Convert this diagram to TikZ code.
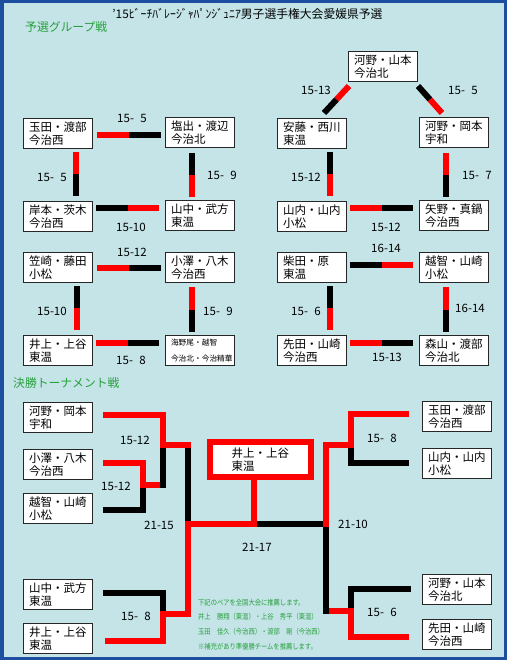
\documentclass[tikz,border=0pt]{standalone}
\usepackage{graphicx}
\usepackage{fontspec}
\setmainfont{Noto Sans CJK JP}
\usetikzlibrary{calc}
\definecolor{bg}{RGB}{196,228,232}
\definecolor{frameblue}{RGB}{30,78,160}
\definecolor{grn}{RGB}{40,160,60}
\newcommand\twotone[4]{\draw[conn,#3] #1 -- ($#1!0.5!#2$); \draw[conn,#4] ($#1!0.5!#2$) -- #2;}
\begin{document}
\begin{tikzpicture}[x=1pt,y=-1pt,
  team/.style={draw=black!85, line width=1pt, fill=white, anchor=north west,
    minimum width=69pt, minimum height=30pt, text width=58pt, inner xsep=5.5pt,
    inner ysep=0pt, align=left, font=\fontsize{11.5}{13}\selectfont},
  smallteam/.style={team, font=\fontsize{7.7}{16}\selectfont},
  score/.style={font=\fontsize{11.5}{13}\selectfont, inner sep=0pt},
  conn/.style={line width=6pt, line cap=butt, line join=miter},
  hdr/.style={text=grn, anchor=west, inner sep=0pt, font=\fontsize{11.8}{14}\selectfont},
  note/.style={text=grn, anchor=west, inner sep=0pt, font=\fontsize{7.4}{9}\selectfont},
]
\useasboundingbox (0,0) rectangle (508,663);
\fill[white] (0,0) rectangle (508,663);
\draw[line width=3.5pt, draw=frameblue, fill=bg] (1.75,1.75) rectangle (505.5,658.5);

% title and headers
\node[inner sep=0pt, font=\fontsize{11.8}{14}\selectfont] (title) at (247.5,14) {’15ﾋﾞｰﾁﾊﾞﾚｰｼﾞｬﾊﾟﾝｼﾞｭﾆｱ男子選手権大会愛媛県予選};
\node[hdr] (h1) at (25,27.5) {予選グループ戦};
\node[hdr] (h2) at (13,383) {決勝トーナメント戦};

% ---------- group stage boxes ----------
\node[team] (a1) at (23,118) {玉田・渡部\\今治西};
\node[team] (a2) at (165,117) {塩出・渡辺\\今治北};
\node[team] (a3) at (23,201) {岸本・茨木\\今治西};
\node[team] (a4) at (165,200) {山中・武方\\東温};
\node[team] (b1) at (23,252) {笠崎・藤田\\小松};
\node[team] (b2) at (165,252) {小澤・八木\\今治西};
\node[team] (b3) at (23,335) {井上・上谷\\東温};
\node[smallteam] (b4) at (165,335) {海野尾・越智\\今治北・今治精華};
\node[team] (c1) at (348,51) {河野・山本\\今治北};
\node[team] (c2) at (277,118) {安藤・西川\\東温};
\node[team] (c3) at (419,117) {河野・岡本\\宇和};
\node[team] (c4) at (277,201) {山内・山内\\小松};
\node[team] (c5) at (419,200) {矢野・真鍋\\今治西};
\node[team] (d1) at (277,252) {柴田・原\\東温};
\node[team] (d2) at (419,252) {越智・山崎\\小松};
\node[team] (d3) at (277,335) {先田・山崎\\今治西};
\node[team] (d4) at (419,335) {森山・渡部\\今治北};

% ---------- group stage connectors ----------
\twotone{(97,135)}{(161,135)}{red}{black}
\twotone{(76,152)}{(76,196)}{red}{black}
\twotone{(192,153)}{(192,197)}{black}{red}
\twotone{(96,208)}{(159,208)}{black}{red}
\twotone{(97,268)}{(161,268)}{red}{black}
\twotone{(77,286)}{(77,330)}{black}{red}
\twotone{(192,287)}{(192,332)}{red}{black}
\twotone{(96,343)}{(159,343)}{red}{black}
\twotone{(349,86)}{(324,113)}{red}{black}
\twotone{(418,86)}{(442,113)}{black}{red}
\twotone{(330,152)}{(330,196)}{black}{red}
\twotone{(446,153)}{(446,197)}{red}{black}
\twotone{(350,208)}{(413,208)}{red}{black}
\twotone{(350,265)}{(413,265)}{black}{red}
\twotone{(330,286)}{(330,330)}{black}{red}
\twotone{(446,287)}{(446,332)}{red}{black}
\twotone{(350,343)}{(413,343)}{red}{black}

% group scores
\node[score] at (132,118) {15-\hphantom{0}5};
\node[score] at (52,177) {15-\hphantom{0}5};
\node[score] at (222,175) {15-\hphantom{0}9};
\node[score] at (131,227) {15-10};
\node[score] at (132,252) {15-12};
\node[score] at (52,311) {15-10};
\node[score] at (218,311) {15-\hphantom{0}9};
\node[score] at (131,360) {15-\hphantom{0}8};
\node[score] at (316,90) {15-13};
\node[score] at (463,90) {15-\hphantom{0}5};
\node[score] at (306,177) {15-12};
\node[score] at (477,175) {15-\hphantom{0}7};
\node[score] at (386,227) {15-12};
\node[score] at (386,248) {16-14};
\node[score] at (306,311) {15-\hphantom{0}6};
\node[score] at (470,308) {16-14};
\node[score] at (387,357) {15-13};

% ---------- tournament boxes ----------
\node[team] (t1) at (23,402) {河野・岡本\\宇和};
\node[team] (t2) at (23,449) {小澤・八木\\今治西};
\node[team] (t3) at (23,493) {越智・山崎\\小松};
\node[team] (t4) at (23,579) {山中・武方\\東温};
\node[team] (t5) at (23,623) {井上・上谷\\東温};
\node[team] (t6) at (422,401) {玉田・渡部\\今治西};
\node[team] (t7) at (422,448) {山内・山内\\小松};
\node[team] (t8) at (422,574) {河野・山本\\今治北};
\node[team] (t9) at (422,619) {先田・山崎\\今治西};
\node[draw=red, line width=6pt, fill=white, minimum width=101pt, minimum height=35pt,
  text width=58pt, align=left, inner sep=0pt, font=\fontsize{11.5}{13}\selectfont]
  (win) at (260.5,459.5) {井上・上谷\\東温};

% ---------- bracket: losing paths (black) ----------
\draw[conn,black] (163,448) -- (163,488);
\draw[conn,black] (103,510) -- (143,510) -- (143,488);
\draw[conn,black] (188,448) -- (188,521);
\draw[conn,black] (103,593) -- (163,593) -- (163,611);
\draw[conn,black] (257,524) -- (323,524);
\draw[conn,black] (351,448) -- (351,463) -- (409,463);
\draw[conn,black] (326,527) -- (326,614);
\draw[conn,black] (351,608) -- (351,589) -- (411,589);
% ---------- bracket: winning paths (red) ----------
\draw[conn,red] (103,415) -- (163,415) -- (163,445) -- (191,445);
\draw[conn,red] (103,463) -- (143,463) -- (143,485) -- (160,485);
\draw[conn,red] (105,641) -- (163,641) -- (163,614) -- (188,614) -- (188,524) -- (254,524) -- (win.south -| 254,0);
\draw[conn,red] (326,527) -- (326,445) -- (351,445) -- (351,414) -- (409,414);
\draw[conn,red] (329,611) -- (351,611) -- (351,637) -- (409,637);

% tournament scores
\node[score] at (135,440) {15-12};
\node[score] at (116,486) {15-12};
\node[score] at (159,525) {21-15};
\node[score] at (136,616) {15-\hphantom{0}8};
\node[score] at (257,547) {21-17};
\node[score] at (353,524.5) {21-10};
\node[score] at (382,438) {15-\hphantom{0}8};
\node[score] at (382,612) {15-\hphantom{0}6};

% note
\node[note] (n1) at (198,603) {\scalebox{0.85}[1]{下記のペアを全国大会に推薦します。}};
\node[note] (n2) at (198,617) {\scalebox{0.85}[1]{井上　勝翔（東温）・上谷　秀平（東温）}};
\node[note] (n3) at (198,631.5) {\scalebox{0.85}[1]{玉田　佳久（今治西）・渡部　剛（今治西）}};
\node[note] (n4) at (198,647) {\scalebox{0.85}[1]{※補充があり準優勝チームを推薦します。}};
\end{tikzpicture}
\end{document}
